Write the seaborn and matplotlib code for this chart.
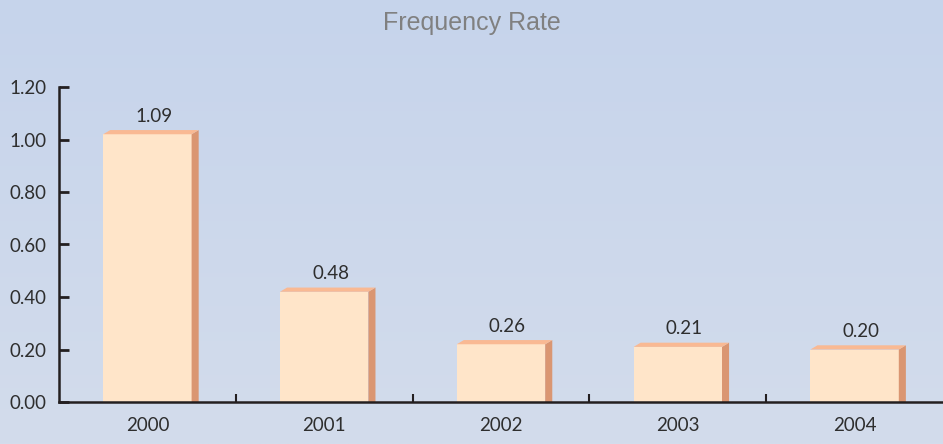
import numpy as np
import pandas as pd
import seaborn as sns
import matplotlib.pyplot as plt
from matplotlib.patches import Polygon

years = ['2000', '2001', '2002', '2003', '2004']
rates = [1.09, 0.48, 0.26, 0.21, 0.20]      # printed on top of the columns
heights = [1.02, 0.42, 0.22, 0.21, 0.20]    # column heights as drawn in the picture

front = '#FFE5C9'
top_col = '#F9B993'
side_col = '#DA9672'
axis_col = '#231F20'
text_col = '#2E2E2E'

sns.set_style('white')
plt.rcParams['font.family'] = ['Lato', 'DejaVu Sans']

df = pd.DataFrame({'year': years, 'height': heights})

fig = plt.figure(figsize=(9.43, 4.44), dpi=100)

# sky-ish background gradient
bg = fig.add_axes([0, 0, 1, 1], zorder=-1)
top_rgb = np.array([198, 212, 235]) / 255
bot_rgb = np.array([211, 220, 236]) / 255
t = np.linspace(0, 1, 200)[:, None, None]
grad = top_rgb * (1 - t) + bot_rgb * t
grad = np.repeat(grad, 2, axis=1)
bg.imshow(grad, aspect='auto', extent=[0, 1, 0, 1], origin='upper')
bg.axis('off')

ax = fig.add_axes([59 / 943, 42 / 444, 884 / 943, 315 / 444])
ax.patch.set_alpha(0)

sns.barplot(data=df, x='year', y='height', color=front, saturation=1,
            width=0.5, ax=ax, zorder=3)

ax.set_ylim(0, 1.2)
ax.set_xlim(-0.5, 4.5)

# 3d depth of the columns (data units)
dx = 0.04
dy = 0.016
bars = list(ax.patches)
for bar, lab in zip(bars, rates):
    bar.set_edgecolor('none')
    x0 = bar.get_x()
    x1 = x0 + bar.get_width()
    h = bar.get_height()
    ax.add_patch(Polygon([(x1, 0), (x1 + dx, 0), (x1 + dx, h + dy), (x1, h)],
                         closed=True, facecolor=side_col, edgecolor='none', zorder=3))
    ax.add_patch(Polygon([(x0, h), (x0 + dx, h + dy), (x1 + dx, h + dy), (x1, h)],
                         closed=True, facecolor=top_col, edgecolor='none', zorder=3))
    ax.annotate(f'{lab:.2f}', xy=(x0 + bar.get_width() / 2 + dx / 2, h + dy),
                xytext=(2, 6), textcoords='offset points', ha='center', va='baseline',
                fontsize=13.5, color=text_col)

ax.set_xlabel('')
ax.set_ylabel('')
ax.set_yticks(np.arange(0, 1.21, 0.2))
ax.set_yticklabels([f'{v:.2f}' for v in np.arange(0, 1.21, 0.2)])
ax.tick_params(axis='y', direction='in', length=7, width=2, color=axis_col,
               labelsize=13.5, labelcolor=text_col, pad=9, left=True)
ax.tick_params(axis='x', which='major', length=0, labelsize=13.5,
               labelcolor=text_col, pad=11)
ax.set_xticks([0.5, 1.5, 2.5, 3.5], minor=True)
ax.tick_params(axis='x', which='minor', direction='in', length=6, width=1.5,
               color=axis_col, bottom=True)

for s in ['top', 'right']:
    ax.spines[s].set_visible(False)
for s in ['left', 'bottom']:
    ax.spines[s].set_color(axis_col)
    ax.spines[s].set_linewidth(1.8)
    ax.spines[s].set_zorder(5)

fig.text(0.5, 1 - 30 / 444, 'Frequency Rate', ha='center', va='baseline',
         fontsize=18, color='#808080', family='Liberation Sans')

fig.savefig('out.png', dpi=100)
